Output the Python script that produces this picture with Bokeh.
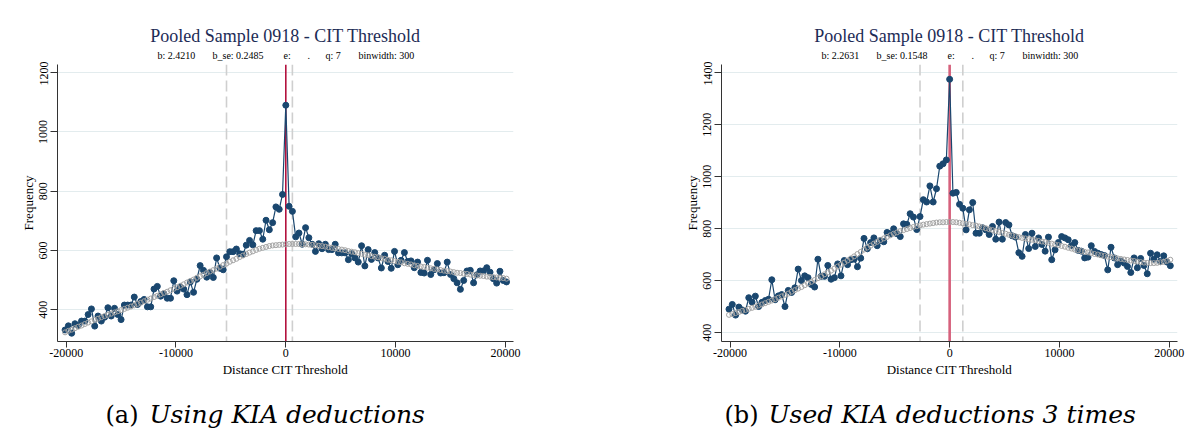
from bokeh.plotting import figure
from bokeh.models import Span, Label, FixedTicker, Range1d
from bokeh.layouts import row, column
from bokeh.embed import file_html
from bokeh.resources import INLINE

BINWIDTH = 300
bins = [BINWIDTH * k for k in range(-67, 68)]

# ---- panel (a): Using KIA deductions ----
left_freq = [
    332, 346, 321, 353, 347, 362, 362, 384, 403, 345,
    379, 362, 375, 407, 379, 405, 384, 367, 416, 416,
    416, 443, 418, 428, 435, 410, 410, 470, 479, 446,
    454, 439, 439, 498, 463, 477, 470, 451, 494, 459,
    503, 549, 533, 510, 526, 509, 575, 540, 535, 579,
    596, 596, 605, 589, 587, 618, 634, 619, 667, 667,
    638, 702, 670, 694, 747, 739, 789,
    1090, 749, 732, 646, 659, 621, 677, 643, 621, 597,
    623, 606, 621, 603, 603, 621, 592, 592, 592, 569,
    589, 575, 561, 616, 548, 603, 570, 593, 575, 541,
    584, 563, 540, 597, 552, 567, 593, 563, 565, 542,
    561, 526, 524, 567, 519, 535, 556, 524, 525, 561,
    519, 505, 491, 469, 499, 531, 533, 491, 518, 531,
    531, 542, 527, 505, 490, 530, 499, 494,
]
left_fit = [
    324, 329, 333, 338, 343, 347, 352, 357, 361, 366,
    370, 375, 379, 383, 387, 391, 395, 399, 403, 407,
    411, 415, 420, 424, 429, 434, 438, 443, 447, 452,
    457, 461, 466, 471, 476, 481, 486, 492, 497, 502,
    508, 513, 518, 524, 529, 534, 539, 545, 551, 556,
    562, 567, 572, 578, 583, 588, 593, 597, 602, 606,
    609, 612, 615, 617, 618, 619, 620, 621,
    622, 622, 622, 622, 621, 621, 620, 619, 618, 616,
    615, 613, 611, 609, 607, 605, 603, 601, 598, 596,
    594, 591, 589, 586, 584, 581, 579, 577, 574, 572,
    569, 567, 564, 562, 560, 557, 555, 553, 550, 548,
    546, 544, 542, 540, 538, 536, 534, 532, 530, 529,
    527, 525, 524, 522, 521, 519, 518, 516, 515, 514,
    512, 511, 510, 509, 508, 507, 505,
]

# ---- panel (b): Used KIA deductions 3 times ----
right_freq = [
    491, 509, 468, 499, 488, 483, 535, 518, 541, 501,
    517, 524, 529, 604, 527, 542, 547, 501, 563, 555,
    573, 645, 601, 619, 612, 586, 576, 683, 617, 617,
    659, 606, 612, 665, 619, 678, 662, 681, 683, 654,
    687, 763, 723, 747, 765, 735, 755, 750, 786, 781,
    800, 781, 770, 819, 817, 858, 845, 797, 847, 912,
    903, 965, 903, 954, 1041, 1050, 1065,
    1375, 937, 940, 894, 879, 796, 873, 901, 783, 783,
    804, 796, 778, 809, 760, 826, 760, 824, 815, 773,
    768, 708, 694, 778, 724, 783, 732, 765, 740, 714,
    768, 681, 719, 747, 770, 765, 758, 735, 747, 717,
    714, 688, 691, 735, 713, 706, 701, 697, 642, 729,
    688, 662, 676, 668, 655, 632, 688, 650, 686, 659,
    627, 706, 683, 700, 674, 696, 672, 658,
]
right_fit = [
    469, 472, 476, 480, 484, 488, 492, 496, 500, 505,
    509, 514, 519, 524, 529, 535, 540, 546, 551, 558,
    564, 570, 576, 583, 590, 596, 603, 610, 617, 625,
    632, 639, 647, 655, 662, 670, 678, 686, 694, 703,
    711, 720, 728, 735, 743, 750, 757, 763, 769, 775,
    781, 786, 791, 795, 799, 803, 807, 810, 813, 816,
    818, 820, 822, 824, 825, 825, 826, 826,
    826, 825, 823, 821, 819, 817, 814, 812, 809, 805,
    802, 798, 795, 791, 788, 784, 781, 777, 774, 771,
    768, 765, 763, 760, 758, 756, 753, 751, 749, 746,
    743, 740, 737, 734, 731, 727, 724, 720, 717, 714,
    711, 709, 706, 703, 701, 698, 696, 693, 691, 689,
    686, 684, 682, 680, 678, 676, 674, 672, 670, 669,
    668, 668, 669, 671, 673, 677, 681,
]

x_ticks = [-20000, -10000, 0, 10000, 20000]
x_tick_labels = ["-20000", "-10000", "0", "10000", "20000"]
left_y_ticks = [400, 600, 800, 1000, 1200]
right_y_ticks = [400, 600, 800, 1000, 1200, 1400]

title_text = "Pooled Sample 0918 - CIT Threshold"
left_stats = ["b: 2.4210", "b_se: 0.2485", "e:", ".", "q: 7", "binwidth: 300"]
right_stats = ["b: 2.2631", "b_se: 0.1548", "e:", ".", "q: 7", "binwidth: 300"]
left_window = [-5400, 600]
right_window = [-2700, 1200]
threshold = 0
left_caption = ("(a)", "Using KIA deductions")
right_caption = ("(b)", "Used KIA deductions 3 times")

SERIF = "Liberation Serif"
CAP_FONT = "DejaVu Serif"
NAVY = "#1a476f"
FRAME_W = 456
FRAME_H = 277
TOP_H = 61      # page y 0..61
MAIN_TOP = 3    # frame top at page y 64
MAIN_BOTTOM = 51
CAP_H = 437 - TOP_H - (MAIN_TOP + FRAME_H + MAIN_BOTTOM)


def blank(width, height):
    f = figure(width=width, height=height, x_range=Range1d(0, width),
               y_range=Range1d(0, height), x_axis_type=None, y_axis_type=None,
               output_backend="svg", toolbar_location=None, min_border=0)
    f.outline_line_color = None
    f.background_fill_color = "white"
    f.border_fill_color = "white"
    return f


def header(width, border_left, stats):
    h = blank(width, TOP_H)
    cx = border_left + FRAME_W / 2
    h.add_layout(Label(x=cx, y=TOP_H - 35, text=title_text, text_font=SERIF,
                       text_font_size="18px", text_color="#1d2c56",
                       text_align="center", text_baseline="middle"))
    offs = [-128, -73, -2, 22, 40, 73]
    for o, s in zip(offs, stats):
        h.add_layout(Label(x=cx + o, y=TOP_H - 55, text=s, text_font=SERIF,
                           text_font_size="10px", text_color="black",
                           text_align="left", text_baseline="middle"))
    return h


def footer(width, x1, x2, caption):
    c = blank(width, CAP_H)
    yc = CAP_H - 22
    c.add_layout(Label(x=x1, y=yc, text=caption[0], text_font=CAP_FONT,
                       text_font_size="24px", text_color="black",
                       text_align="left", text_baseline="middle"))
    c.add_layout(Label(x=x2, y=yc, text=caption[1], text_font=CAP_FONT,
                       text_font_size="25px", text_font_style="italic",
                       text_color="black", text_align="left", text_baseline="middle"))
    return c


def make_panel(width, border_left, xr, yr, yticks, freq, fit, window,
               red_color, red_width):
    p = figure(width=width, height=MAIN_TOP + FRAME_H + MAIN_BOTTOM,
               x_range=Range1d(*xr), y_range=Range1d(*yr),
               output_backend="svg", toolbar_location=None,
               min_border_left=border_left, min_border_right=width - border_left - FRAME_W,
               min_border_top=MAIN_TOP, min_border_bottom=MAIN_BOTTOM)
    p.outline_line_color = None
    p.background_fill_color = "white"
    p.border_fill_color = "white"
    p.xgrid.grid_line_color = None
    p.ygrid.grid_line_color = "#e3ecee"
    p.ygrid.grid_line_width = 1

    p.xaxis.ticker = FixedTicker(ticks=x_ticks)
    p.xaxis.major_label_overrides = dict(zip(x_ticks, x_tick_labels))
    p.yaxis.ticker = FixedTicker(ticks=yticks)
    p.yaxis.major_label_overrides = {t: str(t) for t in yticks}
    for ax in (p.xaxis[0], p.yaxis[0]):
        ax.minor_tick_line_color = None
        ax.axis_line_color = "#333333"
        ax.major_tick_line_color = "#333333"
        ax.major_label_text_font = SERIF
        ax.major_label_text_font_size = "12px"
        ax.major_label_text_color = "black"
        ax.axis_label_text_font = SERIF
        ax.axis_label_text_font_size = "13px"
        ax.axis_label_text_font_style = "normal"
        ax.axis_label_text_color = "black"
    p.xaxis.major_tick_out = 6
    p.xaxis.major_tick_in = 0
    p.xaxis.major_label_standoff = 1
    p.xaxis.axis_label = "Distance CIT Threshold"
    p.xaxis.axis_label_standoff = 2
    p.yaxis.major_tick_out = 7
    p.yaxis.major_tick_in = 0
    p.yaxis.major_label_standoff = 3
    p.yaxis.major_label_orientation = "vertical"
    p.yaxis.axis_label = "Frequency"
    p.yaxis.axis_label_standoff = 1

    for w in window:
        p.add_layout(Span(location=w, dimension="height", line_color="#cfcfcf",
                          line_width=1.6, line_dash="11 5", level="underlay"))
    p.add_layout(Span(location=threshold, dimension="height", line_color=red_color,
                      line_width=red_width, level="underlay"))

    p.line(bins, freq, line_color=NAVY, line_width=1.2)
    p.scatter(bins, freq, marker="circle", size=6, fill_color=NAVY, line_color=NAVY)
    p.scatter(bins, fit, marker="circle", size=5, fill_color=None,
              line_color="#a3a3a3", line_width=1)
    return p


W1, W2 = 600, 586
BL1, BL2 = 57, 121
p1 = make_panel(W1, BL1, (-20790, 20735), (293.1, 1227.3), left_y_ticks,
                left_freq, left_fit, left_window, "#b3123e", 1.6)
p2 = make_panel(W2, BL2, (-20783, 20755), (366.5, 1431.9), right_y_ticks,
                right_freq, right_fit, right_window, "#d6617c", 2.6)

h1 = header(W1, BL1, left_stats)
h2 = header(W2, BL2, right_stats)
c1 = footer(W1, 105, 149, left_caption)
c2 = footer(W2, 124, 168, right_caption)

layout = column(row(h1, h2, spacing=0), row(p1, p2, spacing=0),
                row(c1, c2, spacing=0), spacing=0)
open("out.html", "w").write(file_html(layout, INLINE))
